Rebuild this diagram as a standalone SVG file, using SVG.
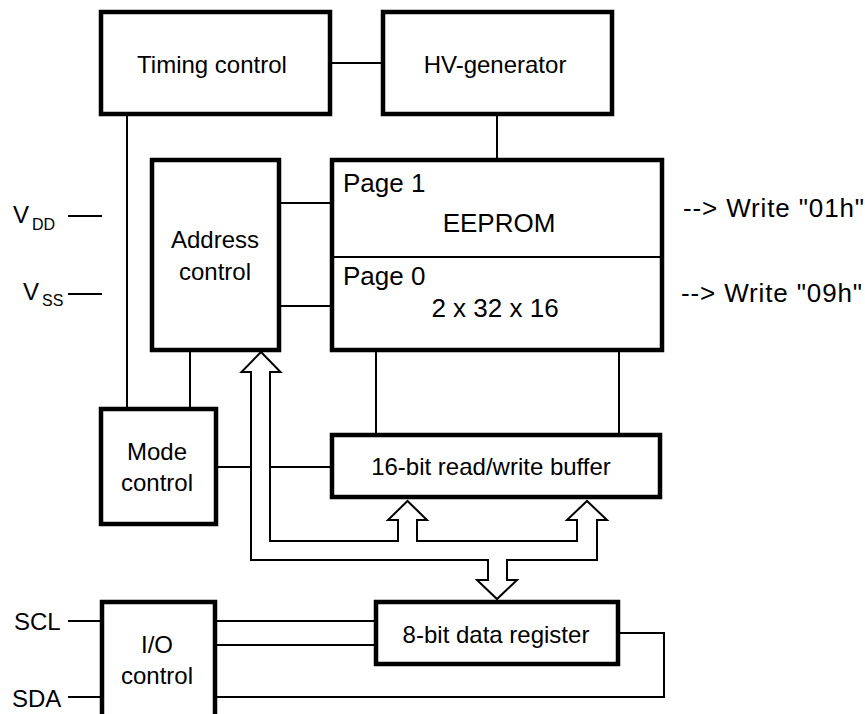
<svg xmlns="http://www.w3.org/2000/svg" width="865" height="714" viewBox="0 0 865 714">
<style>
.box{fill:#fff;stroke:#000;stroke-width:4.5}
.ln{fill:none;stroke:#000;stroke-width:2}
.bus{fill:#fff;stroke:#000;stroke-width:2;stroke-linejoin:miter}
text{font-family:"Liberation Sans",Arial,sans-serif;font-size:24px;fill:#000}
.c{text-anchor:middle}
.big{font-size:26px}
.sub{font-size:16px}
</style>
<rect width="865" height="714" fill="#fff"/>
<g id="connectors">
<line class="ln" x1="332" y1="63" x2="381" y2="63"/>
<line class="ln" x1="497" y1="116" x2="497" y2="158"/>
<line class="ln" x1="127" y1="116" x2="127" y2="407"/>
<line class="ln" x1="68" y1="216" x2="102" y2="216"/>
<line class="ln" x1="68" y1="294" x2="102" y2="294"/>
<line class="ln" x1="281" y1="203" x2="330" y2="203"/>
<line class="ln" x1="281" y1="306" x2="330" y2="306"/>
<line class="ln" x1="190" y1="352" x2="190" y2="407"/>
<line class="ln" x1="376" y1="352" x2="376" y2="433"/>
<line class="ln" x1="619" y1="352" x2="619" y2="433"/>
<line class="ln" x1="218" y1="467" x2="251" y2="467"/>
<line class="ln" x1="270" y1="467" x2="330" y2="467"/>
<line class="ln" x1="68" y1="621" x2="100" y2="621"/>
<line class="ln" x1="68" y1="697" x2="100" y2="697"/>
<line class="ln" x1="217" y1="621" x2="374" y2="621"/>
<line class="ln" x1="217" y1="645" x2="374" y2="645"/>
<polyline class="ln" points="620,633 664,633 664,697 217,697"/>
<polygon class="bus" points="261,352 280.5,372 270,372 270,541 398,541 398,520 388,520 407.5,501 427,520 417,520 417,541 577,541 577,520 567,520 587,501 607,520 597,520 597,560 507,560 507,580 517,580 497,599 477,580 488,580 488,560 251,560 251,372 241.5,372"/>
</g>
<g id="timing">
<rect class="box" x="101" y="12" width="229" height="102"/>
<text class="c" x="212" y="73">Timing control</text>
</g>
<g id="hv">
<rect class="box" x="383" y="12" width="229" height="102"/>
<text class="c" x="495" y="73">HV-generator</text>
</g>
<g id="vdd">
<text x="13" y="223">V</text><text class="sub" x="32" y="230">DD</text>
</g>
<g id="vss">
<text x="23" y="300">V</text><text class="sub" x="42" y="306">SS</text>
</g>
<g id="address">
<rect class="box" x="152" y="160" width="127" height="190"/>
<text class="c" x="215" y="248">Address</text>
<text class="c" x="215" y="280">control</text>
</g>
<g id="eeprom">
<rect class="box" x="332" y="160" width="330" height="190"/>
<line class="ln" x1="332" y1="257" x2="662" y2="257"/>
<text class="big" x="343" y="192">Page 1</text>
<text class="big c" x="499" y="232">EEPROM</text>
<text class="big" x="343" y="285">Page 0</text>
<text class="big c" x="495" y="317">2 x 32 x 16</text>
</g>
<g id="writes">
<text class="big" x="683" y="217" textLength="181" lengthAdjust="spacing">--&gt; Write "01h"</text>
<text class="big" x="681" y="302" textLength="181" lengthAdjust="spacing">--&gt; Write "09h"</text>
</g>
<g id="mode">
<rect class="box" x="101" y="409" width="115" height="115"/>
<text class="c" x="157" y="460">Mode</text>
<text class="c" x="157" y="491">control</text>
</g>
<g id="buffer">
<rect class="box" x="332" y="435" width="328" height="62"/>
<text class="c" x="491" y="475">16-bit read/write buffer</text>
</g>
<g id="io">
<rect class="box" x="102" y="602" width="113" height="200"/>
<text class="c" x="157" y="653">I/O</text>
<text class="c" x="157" y="684">control</text>
</g>
<g id="scl"><text x="14" y="630">SCL</text></g>
<g id="sda"><text x="12" y="707">SDA</text></g>
<g id="register">
<rect class="box" x="376" y="602" width="242" height="62"/>
<text class="c" x="496" y="643">8-bit data register</text>
</g>
</svg>
